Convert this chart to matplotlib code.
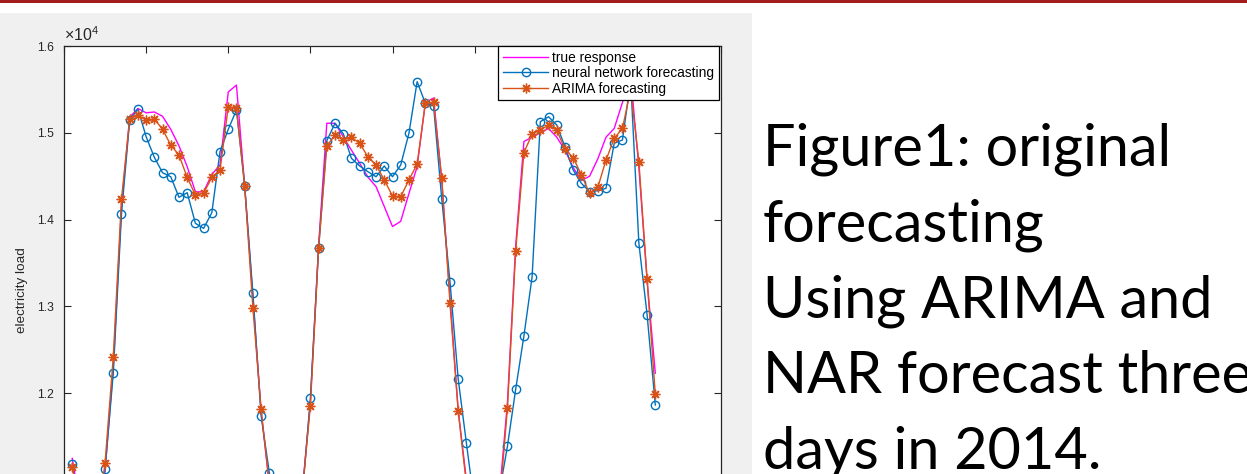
import numpy as np
import matplotlib
matplotlib.use("Agg")
import matplotlib.pyplot as plt
from matplotlib.patches import Rectangle
from matplotlib.ticker import FuncFormatter

plt.rcParams['font.family'] = ['Liberation Sans', 'DejaVu Sans']
plt.rcParams['mathtext.fontset'] = 'custom'
plt.rcParams['mathtext.rm'] = 'Liberation Sans'

# hourly load, three days (1..72)
hours = np.arange(1, 73)

true_response = [
    11250, 10700, 10450, 10550, 11100, 12300, 14150, 15180, 15280, 15230,
    15240, 15190, 15040, 14850, 14610, 14320, 14320, 14520, 14630, 15470,
    15550, 14390, 13100, 11790, 10950, 10500, 10300, 10350, 10850, 11900,
    13700, 15110, 15110, 14955, 14800, 14650, 14490, 14380, 14150, 13920,
    13980, 14300, 14610, 15350, 15400, 14450, 13100, 11800, 11000, 10500,
    10300, 10300, 10800, 11900, 13700, 14900, 14950, 15000, 15050, 14950,
    14800, 14600, 14450, 14500, 14700, 14950, 15050, 15350, 15650, 14600,
    13300, 12230]

nn_forecast = [
    11184, 10600, 10450, 10500, 11127, 12233, 14065, 15147, 15274, 14955,
    14718, 14540, 14494, 14257, 14310, 13957, 13899, 14080, 14783, 15040,
    15263, 14391, 13151, 11741, 11084, 10550, 10350, 10400, 10800, 11942,
    13669, 14909, 15110, 14990, 14706, 14618, 14552, 14494, 14618, 14494,
    14629, 14994, 15589, 15340, 15309, 14234, 13285, 12164, 11423, 10700,
    10400, 10350, 10850, 11392, 12045, 12659, 13342, 15128, 15185, 15090,
    14840, 14571, 14418, 14321, 14333, 14360, 14880, 14917, 15600, 13727,
    12905, 11864]

arima_forecast = [
    11150, 10650, 10400, 10500, 11196, 12417, 14234, 15159, 15205, 15147,
    15159, 15040, 14859, 14744, 14487, 14283, 14303, 14487, 14571, 15301,
    15282, 14391, 12985, 11818, 10950, 10500, 10300, 10350, 10850, 11853,
    13669, 14848, 14975, 14917, 14948, 14879, 14725, 14629, 14456, 14272,
    14264, 14456, 14640, 15340, 15350, 14476, 13036, 11798, 10950, 10500,
    10300, 10300, 10700, 11833, 13641, 14771, 14986, 15032, 15090, 15032,
    14811, 14715, 14514, 14303, 14372, 14687, 14937, 15050, 15500, 14667,
    13313, 11987]

caption = ["Figure1: original", "forecasting", "Using ARIMA and",
           "NAR forecast three", "days in 2014."]

W, H = 1247, 474
fig = plt.figure(figsize=(W / 100, H / 100), dpi=100)
fig.patch.set_facecolor('white')

# slide decoration: red rule at the top, grey figure panel
fig.patches.append(Rectangle((0, 1 - 3 / H), 1, 3 / H, transform=fig.transFigure,
                             facecolor='#a11d1d', edgecolor='none', zorder=-2))
fig.patches.append(Rectangle((0, 0), 752 / W, (H - 13) / H, transform=fig.transFigure,
                             facecolor='#f0f0f0', edgecolor='none', zorder=-2))

# axes run past the bottom of the canvas (panel is cropped)
ax_left, ax_top, ax_w = 64 / W, 1 - 46 / H, 657 / W
ax_h = 520.8 / H
ax = fig.add_axes([ax_left, ax_top - ax_h, ax_w, ax_h])
ax.set_zorder(1)
ax.set_facecolor('white')

ax.plot(hours, true_response, color='#ff00ff', lw=1.0, label='true response')
ax.plot(hours, nn_forecast, color='#0072bd', lw=1.0, marker='o', ms=6,
        mfc='none', mew=1.0, label='neural network forecasting')
ax.plot(hours, arima_forecast, color='#d95319', lw=1.0, marker=(8, 2, 0), ms=7,
        mew=1.0, label='ARIMA forecasting')

ax.set_xlim(0, 80)
ax.set_ylim(10000, 16000)
ax.set_xticks(np.arange(0, 81, 10))
ax.set_yticks(np.arange(12000, 16001, 1000))
ax.yaxis.set_major_formatter(FuncFormatter(lambda v, p: f"{v / 1e4:.1f}"))
ax.tick_params(direction='in', length=5, top=True, right=True, labelsize=8.7,
               colors='#262626', pad=7, labelbottom=False)
for s in ax.spines.values():
    s.set_color('#262626')
    s.set_linewidth(0.9)

ax.set_ylabel('electricity load', fontsize=9.7, color='#262626')
ax.yaxis.set_label_coords(-0.0548, 0.5315)
ax.text(0.0, 1.004, r'$\times 10^{4}$', transform=ax.transAxes, fontsize=11.5,
        color='#262626', ha='left', va='bottom')

leg = ax.legend(loc='upper right', bbox_to_anchor=(0.997, 1.0), borderaxespad=0,
                fontsize=9.9, handlelength=3.3, handletextpad=0.3, labelspacing=0.12,
                borderpad=0.33, fancybox=False, framealpha=1)
leg.get_frame().set_edgecolor('black')
leg.get_frame().set_linewidth(0.9)

# caption on the right of the slide
for i, line in enumerate(caption):
    y = 165 + i * 76
    fig.text(763 / W, 1 - y / H, line, fontsize=41.5, family='Lato',
             ha='left', va='baseline', color='black')

fig.savefig('out.png', dpi=100)
